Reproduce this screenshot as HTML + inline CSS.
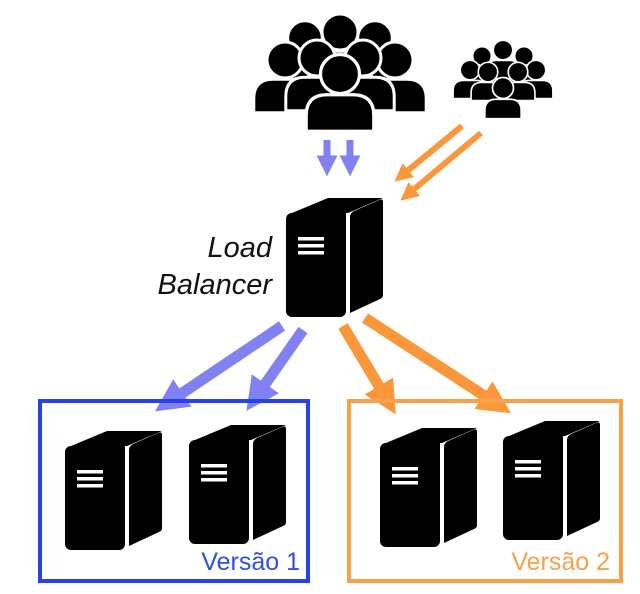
<!DOCTYPE html>
<html><head><meta charset="utf-8"><style>
html,body{margin:0;padding:0;background:#fff;width:640px;height:594px;overflow:hidden}
svg{display:block}
</style></head><body>
<svg width="640" height="594" viewBox="0 0 640 594" xmlns="http://www.w3.org/2000/svg">
<defs>
<g id="srv">
  <path d="M6,16 L42,1 L97,1 L62,16 Z" fill="#000"/>
  <rect x="0" y="16" width="60" height="104" rx="6" fill="#000"/>
  <path d="M6,16 Q0,18 0,24 L0,30 L60,30 L60,16 Z" fill="#000"/>
  <path d="M64,20 Q64,16 68,14 L93,3 Q97,1 97,5 L97,98 Q97,101 94,102 L64,116 Z" fill="#000"/>
  <rect x="12" y="40" width="26" height="3.5" fill="#fff"/>
  <rect x="12" y="47" width="26" height="3.5" fill="#fff"/>
  <rect x="12" y="54" width="26" height="3.5" fill="#fff"/>
</g>
<g id="person">
  <circle cx="0" cy="0" r="15" fill="#000" stroke="#fff" stroke-width="2.5"/>
  <path d="M-26,44 L-26,32 Q-26,16 -10,16 L10,16 Q26,16 26,32 L26,44 Z" fill="#000" stroke="#fff" stroke-width="2.5"/>
</g>
<marker id="ab" viewBox="0 0 10 10" refX="6" refY="5" markerWidth="3" markerHeight="3" orient="auto"><path d="M0,0 L10,5 L0,10 Z" fill="#8181f2"/></marker>
<marker id="ao" viewBox="0 0 10 10" refX="6" refY="5" markerWidth="3" markerHeight="3" orient="auto"><path d="M0,0 L10,5 L0,10 Z" fill="#f9973a"/></marker>
<marker id="ab2" viewBox="0 0 10 10" refX="6" refY="5" markerWidth="3" markerHeight="3" orient="auto"><path d="M0,0 L10,5 L0,10 Z" fill="#8181f2"/></marker>
<marker id="ao2" viewBox="0 0 10 10" refX="6" refY="5" markerWidth="3" markerHeight="3" orient="auto"><path d="M0,0 L10,5 L0,10 Z" fill="#f9973a"/></marker>
</defs>

<g>
  <use href="#person" transform="translate(305,38) scale(1.15)"/>
  <use href="#person" transform="translate(375,38) scale(1.15)"/>
  <use href="#person" transform="translate(340,32) scale(1.2)"/>
  <use href="#person" transform="translate(285,60) scale(1.2)"/>
  <use href="#person" transform="translate(395,60) scale(1.2)"/>
  <use href="#person" transform="translate(317,58) scale(1.2)"/>
  <use href="#person" transform="translate(363,58) scale(1.2)"/>
  <use href="#person" transform="translate(340,74) scale(1.3)"/>
</g>
<g>
  <use href="#person" transform="translate(482,56) scale(0.62)"/>
  <use href="#person" transform="translate(524,56) scale(0.62)"/>
  <use href="#person" transform="translate(503,50) scale(0.65)"/>
  <use href="#person" transform="translate(470,70) scale(0.65)"/>
  <use href="#person" transform="translate(536,70) scale(0.65)"/>
  <use href="#person" transform="translate(488,72) scale(0.65)"/>
  <use href="#person" transform="translate(518,72) scale(0.65)"/>
  <use href="#person" transform="translate(503,88) scale(0.7)"/>
</g>

<line x1="327" y1="140" x2="327" y2="168" stroke="#8181f2" stroke-width="7" marker-end="url(#ab)"/>
<line x1="350" y1="140" x2="350" y2="168" stroke="#8181f2" stroke-width="7" marker-end="url(#ab)"/>
<line x1="462" y1="126" x2="400" y2="177" stroke="#f9973a" stroke-width="6" marker-end="url(#ao)"/>
<line x1="481" y1="133" x2="406" y2="196" stroke="#f9973a" stroke-width="6" marker-end="url(#ao)"/>

<use href="#srv" transform="translate(286,197)"/>
<text x="272" y="257" font-family="Liberation Sans, sans-serif" font-style="italic" font-size="29" text-anchor="end" fill="#111">Load</text>
<text x="272" y="294" font-family="Liberation Sans, sans-serif" font-style="italic" font-size="29" text-anchor="end" fill="#111">Balancer</text>

<line x1="282" y1="326" x2="166" y2="404" stroke="#8181f2" stroke-width="11" marker-end="url(#ab2)"/>
<line x1="303" y1="330" x2="254" y2="400" stroke="#8181f2" stroke-width="11" marker-end="url(#ab2)"/>
<line x1="343" y1="326" x2="389" y2="403" stroke="#f9973a" stroke-width="11" marker-end="url(#ao2)"/>
<line x1="365" y1="318" x2="500" y2="406" stroke="#f9973a" stroke-width="11" marker-end="url(#ao2)"/>

<rect x="40" y="401" width="268" height="180" fill="none" stroke="#2742e6" stroke-width="4"/>
<rect x="349" y="401" width="272" height="180" fill="none" stroke="#f9a04a" stroke-width="4"/>

<use href="#srv" transform="translate(65,430)"/>
<use href="#srv" transform="translate(189,424)"/>
<use href="#srv" transform="translate(380,427)"/>
<use href="#srv" transform="translate(503,420)"/>

<text x="300" y="570" font-family="Liberation Sans, sans-serif" font-size="25" text-anchor="end" fill="#2f4fe0">Versão 1</text>
<text x="610" y="570" font-family="Liberation Sans, sans-serif" font-size="25" text-anchor="end" fill="#f9a04a">Versão 2</text>
</svg>
</body></html>
